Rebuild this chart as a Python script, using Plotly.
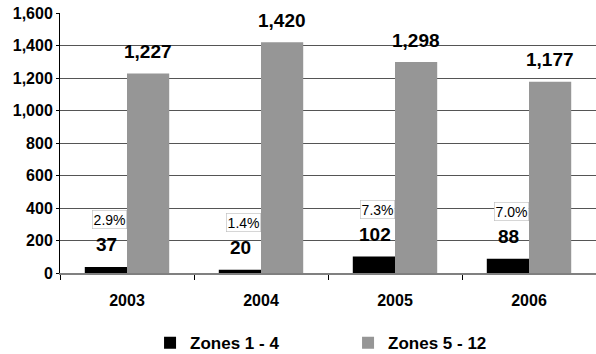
import plotly.graph_objects as go

years = ["2003", "2004", "2005", "2006"]
zones_1_4 = [37, 20, 102, 88]
zones_5_12 = [1227, 1420, 1298, 1177]
series_names = ["Zones 1 - 4", "Zones 5 - 12"]
y_ticks = [0, 200, 400, 600, 800, 1000, 1200, 1400, 1600]

FONT = "Arial, Liberation Sans, sans-serif"

xpos = list(range(len(years)))
bar_w = 0.315

fig = go.Figure()
fig.add_trace(go.Bar(x=xpos, y=zones_1_4, name="<b>" + series_names[0] + "</b>",
                     width=bar_w, offset=-bar_w,
                     marker=dict(color="#000000", line=dict(width=0))))
fig.add_trace(go.Bar(x=xpos, y=zones_5_12, name="<b>" + series_names[1] + "</b>",
                     width=bar_w, offset=0,
                     marker=dict(color="#969696", line=dict(width=0))))

annotations = []
for i in xpos:
    a, b = zones_1_4[i], zones_5_12[i]
    pct = a / (a + b) * 100
    annotations.append(dict(x=i - bar_w / 2, y=a, xref="x", yref="y",
                            text=f"<b>{a:,}</b>",
                            showarrow=False, xshift=1, yshift=22, yanchor="middle",
                            font=dict(family=FONT, size=19, color="#000000")))
    annotations.append(dict(x=i + bar_w / 2, y=b, xref="x", yref="y",
                            text=f"<b>{b:,}</b>",
                            showarrow=False, yshift=22, yanchor="middle",
                            font=dict(family=FONT, size=19, color="#000000")))
    annotations.append(dict(x=i - bar_w / 2, y=a, xref="x", yref="y", text=f"{pct:.1f}%",
                            showarrow=False, xshift=4, yshift=47, yanchor="middle",
                            bgcolor="#ffffff", bordercolor="#bbbbbb", borderwidth=0.6,
                            borderpad=1,
                            font=dict(family=FONT, size=14, color="#000000")))

fig.update_layout(
    width=596, height=354,
    margin=dict(l=60, r=0, t=13, b=81, autoexpand=False),
    paper_bgcolor="#ffffff", plot_bgcolor="#ffffff",
    barmode="overlay",
    showlegend=True,
    legend=dict(orientation="h", x=0.168, xanchor="left", y=-0.27, yanchor="middle",
                entrywidth=153, entrywidthmode="pixels",
                font=dict(family=FONT, size=17, color="#000000"),
                itemclick=False, itemdoubleclick=False),
    annotations=annotations,
    font=dict(family=FONT),
)
fig.update_xaxes(
    range=[-0.5, len(years) - 0.5], tickvals=xpos,
    ticktext=["<b>" + y + "</b>" for y in years],
    showgrid=False, showline=True, linecolor="#808080", linewidth=2,
    ticks="", zeroline=False, ticklabelstandoff=12,
    minor=dict(tickvals=[i - 0.5 for i in range(len(years) + 1)], ticks="outside",
               ticklen=5, tickcolor="#000000", showgrid=False),
    tickfont=dict(family=FONT, size=16, color="#000000"),
)
fig.update_yaxes(
    range=[0, 1600], tickvals=y_ticks,
    ticktext=["<b>" + f"{v:,}" + "</b>" for v in y_ticks],
    showgrid=True, gridcolor="#555555", gridwidth=1,
    showline=True, linecolor="#000000", linewidth=1,
    ticks="outside", ticklen=3, tickcolor="#000000", zeroline=False,
    tickfont=dict(family=FONT, size=16, color="#000000"),
)

fig.write_html("out.html")
